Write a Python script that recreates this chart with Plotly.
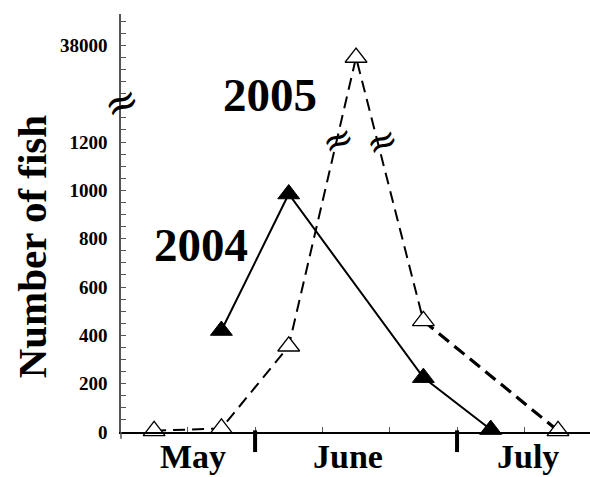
import plotly.graph_objects as go

# Sampling dates (every 10 days) and fish counts per season
dates_2004 = ["2005-05-27", "2005-06-06", "2005-06-26", "2005-07-06"]
fish_2004 = [420, 985, 225, 10]

dates_2005 = ["2005-05-17", "2005-05-27", "2005-06-06", "2005-06-16", "2005-06-26", "2005-07-16"]
fish_2005 = [5, 15, 355, 37000, 460, 5]

# Broken y scale: linear up to 1200, compressed segment around 38000
LOW_TICKS = [0, 200, 400, 600, 800, 1000, 1200]
HIGH_TICK = 38000
BREAK_LIMIT = 1300
HIGH_ANCHOR = 1600      # axis position of the 38000 tick
HIGH_UNITS = 20         # fish per axis unit above the break

month_names = ["May", "June", "July"]
month_label_dates = ["2005-05-22 18:00", "2005-06-14 18:00", "2005-07-11 12:00"]
month_bounds = ["2005-06-01", "2005-07-01"]

FONT = "Liberation Serif"
BREAK_FONT = "DejaVu Serif"


def to_axis(v):
    if v <= BREAK_LIMIT:
        return v
    return HIGH_ANCHOR + (v - HIGH_TICK) / HIGH_UNITS


y2005 = [to_axis(v) for v in fish_2005]
y2004 = [to_axis(v) for v in fish_2004]

fig = go.Figure()

# 2005: dashed line, heavier on the late-season descent
fig.add_trace(go.Scatter(
    x=dates_2005[:-1], y=y2005[:-1], mode="lines",
    line=dict(color="black", width=2, dash="12px,7px"),
    hoverinfo="skip",
))
fig.add_trace(go.Scatter(
    x=dates_2005[-2:], y=y2005[-2:], mode="lines",
    line=dict(color="black", width=3.2, dash="13px,7px"),
    hoverinfo="skip",
))
fig.add_trace(go.Scatter(
    x=dates_2005, y=y2005, mode="markers",
    marker=dict(symbol="triangle-up", size=19, color="white",
                line=dict(color="black", width=1.3)),
    cliponaxis=False, name="2005",
))
fig.add_trace(go.Scatter(
    x=dates_2004, y=y2004,
    mode="lines+markers",
    line=dict(color="black", width=2),
    marker=dict(symbol="triangle-up", size=19, color="black",
                line=dict(color="black", width=1)),
    cliponaxis=False, name="2004",
))

tickvals = list(range(0, 1701, 50))
label_map = {t: str(t) for t in LOW_TICKS}
label_map[HIGH_ANCHOR] = str(HIGH_TICK)
ticktext = [label_map.get(t, "") for t in tickvals]

shapes = []
for d in month_bounds:
    shapes.append(dict(type="line", xref="x", yref="paper", x0=d, x1=d,
                       y0=-0.048, y1=0.004, line=dict(color="black", width=4)))
# small extension of the y axis below zero
shapes.append(dict(type="line", xref="paper", yref="paper", x0=0, x1=0,
                   y0=0, y1=-0.016, line=dict(color="#555", width=1.5)))

annotations = []
for name, d in zip(month_names, month_label_dates):
    annotations.append(dict(x=d, y=-0.105, xref="x", yref="paper", text=f"<b>{name}</b>",
                            showarrow=False, xanchor="center", yanchor="bottom", borderpad=0,
                            font=dict(family=FONT, size=34, color="black")))

annotations += [
    dict(x="2005-06-03 06:00", y=1393, xref="x", yref="y", text="<b>2005</b>", showarrow=False,
         xanchor="center", yanchor="middle", font=dict(family=FONT, size=47, color="black")),
    dict(x="2005-05-24", y=775, xref="x", yref="y", text="<b>2004</b>", showarrow=False,
         xanchor="center", yanchor="middle", font=dict(family=FONT, size=47, color="black")),
    dict(x=-0.189, y=0.445, xref="paper", yref="paper", text="<b>Number of fish</b>",
         showarrow=False, textangle=-90, xanchor="center", yanchor="middle",
         font=dict(family=FONT, size=41, color="black")),
    # scale-break marks
    dict(x=0, y=1362, xref="paper", yref="y", text="≈", showarrow=False, textangle=-25,
         xanchor="center", yanchor="middle", font=dict(family=BREAK_FONT, size=42, color="black")),
    dict(x="2005-06-13 06:00", y=1210, xref="x", yref="y", text="≈", showarrow=False,
         textangle=-25, xanchor="center", yanchor="middle",
         font=dict(family=BREAK_FONT, size=38, color="black")),
    dict(x="2005-06-19 22:00", y=1205, xref="x", yref="y", text="≈", showarrow=False,
         textangle=-25, xanchor="center", yanchor="middle",
         font=dict(family=BREAK_FONT, size=38, color="black")),
]

fig.update_layout(
    width=590, height=477,
    margin=dict(l=121, r=0, t=14, b=45),
    paper_bgcolor="white", plot_bgcolor="white",
    showlegend=False,
    shapes=shapes, annotations=annotations,
    xaxis=dict(
        type="date", range=["2005-05-12 02:00", "2005-07-20 18:00"],
        showline=True, linecolor="black", linewidth=1.5,
        ticks="inside", ticklen=5, tickcolor="#555", tickwidth=1,
        tick0="2005-05-22", dtick=864000000,
        showticklabels=False, showgrid=False, zeroline=False,
    ),
    yaxis=dict(
        range=[0, 1730],
        showline=True, linecolor="#555", linewidth=1.5,
        ticks="inside", ticklen=5, tickcolor="#555", tickwidth=1,
        tickmode="array", tickvals=tickvals, ticktext=ticktext,
        tickfont=dict(family=FONT, size=19, color="black", weight="bold"),
        ticklabelstandoff=8,
        showgrid=False, zeroline=False,
    ),
)

fig.write_html("out.html")
